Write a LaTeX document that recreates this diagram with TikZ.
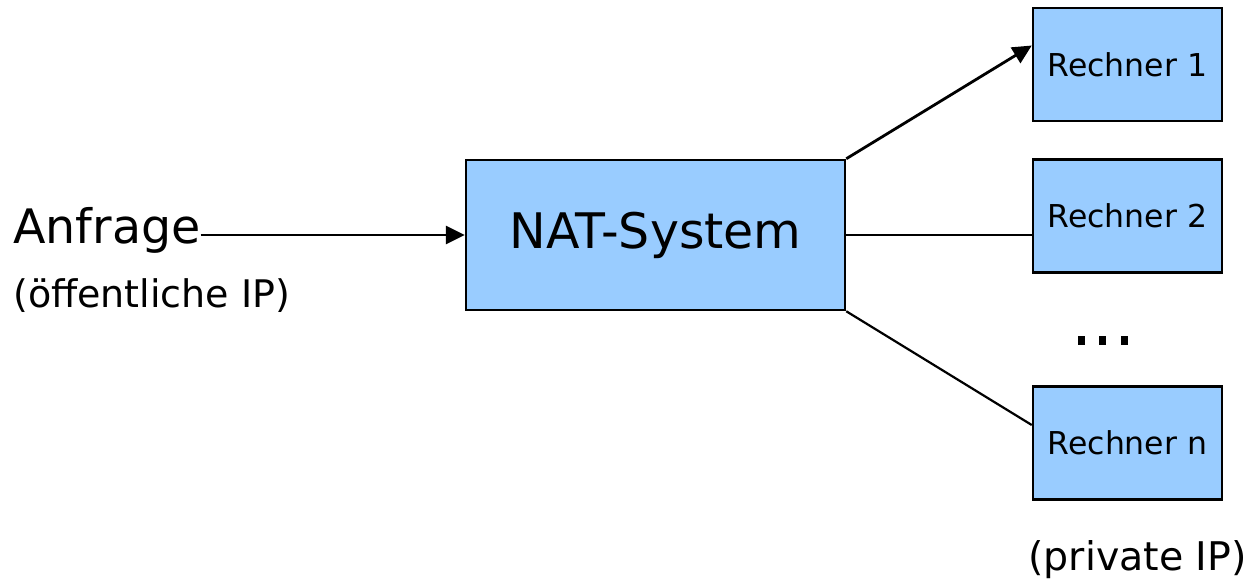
\documentclass[tikz,border=0pt]{standalone}
\usepackage{fontspec}
\setmainfont{DejaVu Sans}
\usetikzlibrary{arrows.meta}

\definecolor{boxblue}{RGB}{153,204,255}
\tikzset{
  pcbox/.style={draw, line width=2.5pt, fill=boxblue, inner sep=0, minimum width=189, minimum height=113, font=\fontsize{31.5}{38}\selectfont},
  conn/.style={line width=2.2pt},
  pfeil/.style={line width=2.8pt, -{Triangle[length=19pt,width=18pt]}}
}

\begin{document}
\begin{tikzpicture}[x=1pt,y=1pt,yscale=-1]
\useasboundingbox (0,0) rectangle (1251,579);

\node (nat) at (655.5,235) [pcbox, minimum width=379, minimum height=150, font=\fontsize{49}{58}\selectfont] {NAT-System};
\node (r1) at (1127.5,64.5) [pcbox] {Rechner 1};
\node (r2) at (1127.5,216) [pcbox] {Rechner 2};
\node (rn) at (1127.5,443) [pcbox] {Rechner n};

\node (anfrage) at (13,243) [anchor=base west, inner sep=0, font=\fontsize{47.5}{56}\selectfont] {Anfrage};
\node (oeff) at (13,296) [anchor=west, inner sep=0, font=\fontsize{38}{46}\selectfont] {(öffentliche IP)};
\node (priv) at (1247,560) [anchor=east, inner sep=0, font=\fontsize{39.5}{47}\selectfont] {(private IP)};

% dots between Rechner 2 and Rechner n
\foreach \dx in {1078,1099,1121}
  \fill (\dx,336) rectangle ++(7,9);

\draw [pfeil] (anfrage.east |- nat.west) -- (nat.west);
\draw [pfeil] (nat.north east) -- ([yshift=-19]r1.west);
\draw [conn] (nat.east) -- (r2.west |- nat.east);
\draw [conn] (nat.south east) -- ([yshift=-18]rn.west);

\end{tikzpicture}
\end{document}
